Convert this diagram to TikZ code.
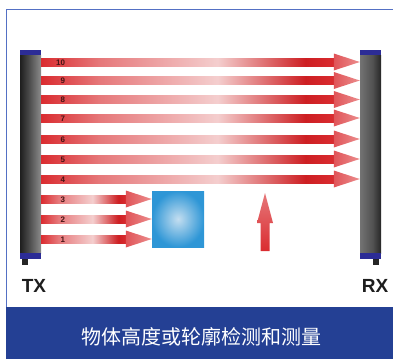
\documentclass[tikz,border=0pt]{standalone}
\usepackage{fontspec}
\newfontfamily\lcsans{Liberation Sans}
\newfontfamily\cjk{Noto Sans CJK SC}
\usepackage{tikz}
\usetikzlibrary{calc, positioning}
\definecolor{lcFrame}{RGB}{84,112,196}
\definecolor{lcBand}{RGB}{36,64,148}
\definecolor{lcCapBlue}{RGB}{44,44,150}
\definecolor{lcRed}{RGB}{218,44,48}
\definecolor{lcMid}{RGB}{230,120,122}
\definecolor{lcPale}{RGB}{244,206,206}
\definecolor{lcDeep}{RGB}{205,30,34}
\definecolor{lcHeadL}{RGB}{224,84,88}
\definecolor{lcHeadR}{RGB}{236,142,142}
\definecolor{lcBoxIn}{RGB}{196,222,240}
\definecolor{lcBoxOut}{RGB}{46,150,214}
\definecolor{lcText}{RGB}{30,30,30}
\definecolor{lcNum}{RGB}{70,20,20}
\pgfdeclarehorizontalshading{lcBeam}{100bp}{color(0bp)=(lcRed); color(25bp)=(lcRed);
  color(35bp)=(lcMid); color(55bp)=(lcPale); color(70bp)=(lcDeep); color(75bp)=(lcRed);
  color(100bp)=(lcRed)}
\pgfdeclarehorizontalshading{lcTxBar}{100bp}{color(0bp)=(black!88); color(25bp)=(black!88);
  color(45bp)=(black!72); color(75bp)=(black!45); color(100bp)=(black!45)}
\pgfdeclarehorizontalshading{lcRxBar}{100bp}{color(0bp)=(black!55); color(25bp)=(black!55);
  color(55bp)=(black!68); color(75bp)=(black!85); color(100bp)=(black!85)}

\begin{document}
\begin{tikzpicture}[
    x=1pt, y=-1pt,
    bar/.style={minimum width=21pt, minimum height=198pt, inner sep=0pt, draw=none},
    capblue/.style={fill=lcCapBlue, draw=none},
    foot/.style={fill=black!85, draw=none},
    objbox/.style={minimum width=52pt, minimum height=56pt, inner sep=0pt,
                   inner color=lcBoxIn, outer color=lcBoxOut},
    beamno/.style={anchor=east, inner sep=0pt, text=lcNum, font=\lcsans\bfseries\fontsize{8}{9}\selectfont},
    side/.style={text=lcText, inner sep=0pt, font=\lcsans\bfseries\fontsize{19}{20}\selectfont},
    caption/.style={text=white, inner sep=0pt, font=\cjk\fontsize{20}{22}\selectfont}
]
\useasboundingbox (0,0) rectangle (393,359);
% frame and caption band
\draw[lcFrame, line width=1.2pt] (6.5,359) |- (393,9.5);
\fill[lcBand] (6,307) rectangle (393,359);
\node[caption] (cap) at (201,337) {物体高度或轮廓检测和测量};

% emitter and receiver
\node[bar, shading=lcTxBar] (tx) at (30.5,154) {};
\node[bar, shading=lcRxBar] (rx) at (370.5,154) {};
\foreach \b in {tx,rx} {
   \fill[capblue] (\b.north west) rectangle ($(\b.north east)+(0,-5)$);
   \fill[capblue] (\b.south west) rectangle ($(\b.south east)+(0,6)$);
}
\fill[foot] ($(tx.south west)+(2,6)$) rectangle ++(6,6);
\fill[foot] ($(rx.south west)+(13,6)$) rectangle ++(6,6);
\node[side] (txl) at (34,285.5) {TX};
\node[side] (rxl) at (375,285.5) {RX};

% object
\node[objbox] (obj) at (178,219) {};

% beams
\foreach \n/\y/\tgt in {1/239/obj, 2/219/obj, 3/199/obj, 4/179/rx, 5/159/rx,
                       6/139/rx, 7/118/rx, 8/99.5/rx, 9/80.5/rx, 10/62/rx} {
   \coordinate (s\n) at (tx.east |- 0,\y);
   \coordinate (e\n) at (\tgt.west |- 0,\y);
   \shade[shading=lcBeam] ($(s\n)+(0,-4)$) rectangle ($(e\n)+(-25,4)$);
   \shade[left color=lcHeadL, right color=lcHeadR]
      ($(e\n)+(-26,-8.5)$) -- (e\n) -- ($(e\n)+(-26,8.5)$) -- cycle;
   \node[beamno] (n\n) at ($(s\n)+(24,0.5)$) {\n};
}

% height direction
\shade[top color=lcMid, bottom color=lcRed]
   (260.5,251) -- (260.5,223) -- (257,223) -- (265,193) -- (273,223)
   -- (269.5,223) -- (269.5,251) -- cycle;
\end{tikzpicture}
\end{document}
